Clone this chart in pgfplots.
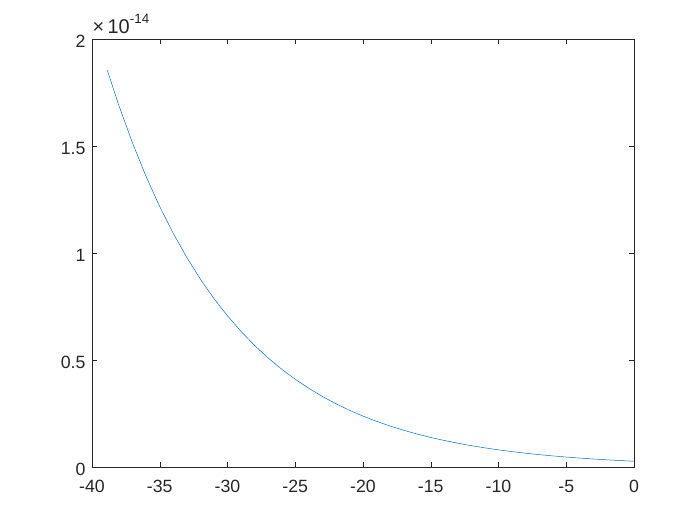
\documentclass[border=0pt]{standalone}
\usepackage{pgfplots}
\pgfplotsset{compat=1.18}
\usepackage{fontspec}
\setmainfont{Liberation Sans}
\definecolor{mblue}{rgb}{0,0.447,0.741}
\definecolor{mgray}{rgb}{0.15,0.15,0.15}
\newcommand{\mfont}{\fontsize{17.8}{20}\selectfont}
\begin{document}
\begin{tikzpicture}[font=\mfont]
\useasboundingbox (-92bp,-58bp) rectangle (608bp,467bp);
\begin{axis}[
  at={(0,0)}, anchor=south west,
  scale only axis, width=542bp, height=428bp,
  xmin=-40, xmax=0, ymin=0, ymax=2e-14,
  xtick={-40,-35,...,0},
  ytick={0,0.5e-14,1e-14,1.5e-14,2e-14},
  scaled y ticks=base 10:14,
  ytick scale label code/.code={},
  /pgf/number format/assume math mode=true,
  yticklabel style={/pgf/number format/fixed, /pgf/number format/precision=1, xshift=-3bp, yshift=-2bp},
  xticklabel style={yshift=-9.5bp},
  tick align=inside,
  major tick length=5bp,
  axis line style={mgray, line width=0.5pt},
  tick style={mgray, line width=0.5pt},
  tick label style={font=\mfont, text=mgray},
  clip=false,
]
\addplot[mblue, line width=0.5pt] coordinates {
(-38.87,1.854e-14) (-38,1.6863e-14) (-37,1.5125e-14) (-36,1.3565e-14) (-35,1.2167e-14)
(-34,1.0913e-14) (-33,0.9788e-14) (-32,0.8778e-14) (-31,0.7873e-14) (-30,0.7062e-14)
(-29,0.6334e-14) (-28,0.5681e-14) (-27,0.5095e-14) (-26,0.4570e-14) (-25,0.4099e-14)
(-24,0.3676e-14) (-23,0.3297e-14) (-22,0.2957e-14) (-21,0.2652e-14) (-20,0.2379e-14)
(-19,0.2134e-14) (-18,0.1914e-14) (-17,0.1716e-14) (-16,0.1540e-14) (-15,0.1381e-14)
(-14,0.1238e-14) (-13,0.1111e-14) (-12,0.09963e-14) (-11,0.08936e-14) (-10,0.08015e-14)
(-9,0.07188e-14) (-8,0.06448e-14) (-7,0.05783e-14) (-6,0.05187e-14) (-5,0.04652e-14)
(-4,0.04172e-14) (-3,0.03742e-14) (-2,0.03356e-14) (-1,0.03010e-14) (0,0.0270e-14)
};
\node[anchor=base west, inner sep=0pt, text=mgray, font=\fontsize{20}{22}\selectfont]
  at ([xshift=0.5bp, yshift=5.7bp]rel axis cs:0,1)
  {\texttimes\,10\raisebox{10bp}{\fontsize{13.5}{15}\selectfont -14}};
\end{axis}
\end{tikzpicture}
\end{document}
